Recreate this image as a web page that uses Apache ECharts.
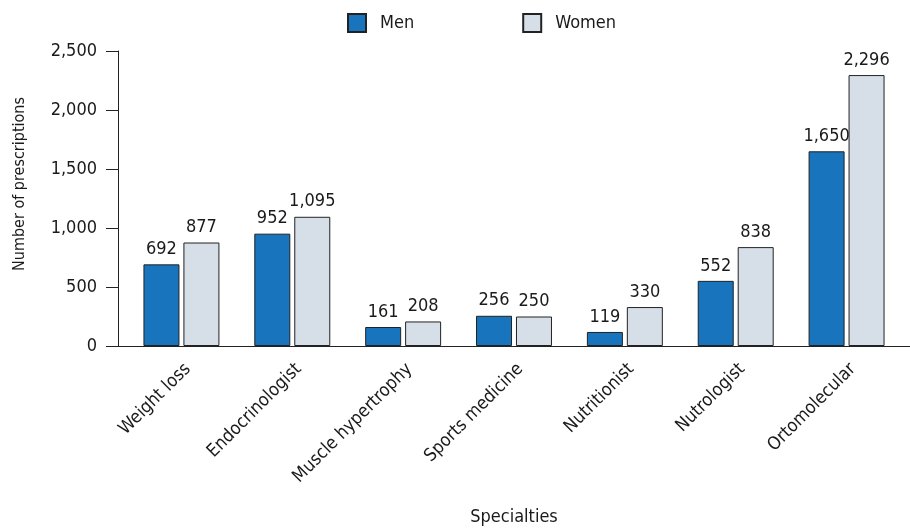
<!DOCTYPE html>
<html>
<head>
<meta charset="utf-8">
<script src="https://cdn.jsdelivr.net/npm/echarts@6/dist/echarts.min.js"></script>
<style>
  html, body { margin: 0; padding: 0; background: #fff; }
  #chart { width: 910px; height: 530px; }
</style>
</head>
<body>
<div id="chart"></div>
<script>
const categories = ['Weight loss', 'Endocrinologist', 'Muscle hypertrophy', 'Sports medicine', 'Nutritionist', 'Nutrologist', 'Ortomolecular'];
const men = [692, 952, 161, 256, 119, 552, 1650];
const women = [877, 1095, 208, 250, 330, 838, 2296];

const FONT = 'DejaVu Sans Condensed';
const INK = '#1a1a1a';
const fmt = (v) => Number(v).toLocaleString('en-US');

const chart = echarts.init(document.getElementById('chart'));

const labelStyle = {
  show: true,
  position: 'top',
  distance: 6,
  color: INK,
  fontFamily: FONT,
  fontSize: 18,
  formatter: (p) => fmt(p.value),
};

chart.setOption({
  animation: false,
  textStyle: { fontFamily: FONT },
  legend: {
    top: 13,
    left: 347,
    padding: 0,
    itemWidth: 18,
    itemHeight: 18,
    itemGap: 108,
    icon: 'rect',
    textStyle: { fontFamily: FONT, fontSize: 18, color: INK, padding: [0, 0, 0, 9] },
    data: ['Men', 'Women'],
  },
  grid: { left: 126, right: 8, top: 51, bottom: 184, outerBoundsMode: 'none' },
  xAxis: {
    type: 'category',
    data: categories,
    name: 'Specialties',
    nameLocation: 'middle',
    nameGap: 162,
    nameTextStyle: { fontFamily: FONT, fontSize: 18, color: INK },
    axisLine: { lineStyle: { color: '#222', width: 1 } },
    axisTick: { show: false },
    axisLabel: { rotate: 45, margin: 14, verticalAlign: 'top', fontFamily: FONT, fontSize: 18, color: INK },
  },
  yAxis: {
    type: 'value',
    min: 0,
    max: 2500,
    interval: 500,
    offset: 8,
    name: 'Number of prescriptions',
    nameLocation: 'middle',
    nameGap: 90,
    nameTextStyle: { fontFamily: FONT, fontSize: 16, color: INK, padding: [0, 0, 0, 29] },
    axisLine: { show: true, lineStyle: { color: '#222', width: 1 } },
    axisTick: { show: true, length: 12, lineStyle: { color: '#222' } },
    splitLine: { show: false },
    axisLabel: { margin: 21, fontFamily: FONT, fontSize: 18, color: INK, formatter: fmt },
  },
  graphic: [
    { type: 'line', shape: { x1: 106, y1: 346.5, x2: 126, y2: 346.5 }, style: { stroke: '#222', lineWidth: 1 } },
    { type: 'line', shape: { x1: 902, y1: 346.5, x2: 910, y2: 346.5 }, style: { stroke: '#222', lineWidth: 1 } },
  ],
  series: [
    {
      name: 'Men',
      type: 'bar',
      data: men,
      barWidth: 36,
      barGap: '11%',
      itemStyle: { color: '#1874bd', borderColor: '#222', borderWidth: 1 },
      label: labelStyle,
    },
    {
      name: 'Women',
      type: 'bar',
      data: women,
      barWidth: 36,
      itemStyle: { color: '#d6dfe8', borderColor: '#222', borderWidth: 1 },
      label: labelStyle,
    },
  ],
});
</script>
</body>
</html>
